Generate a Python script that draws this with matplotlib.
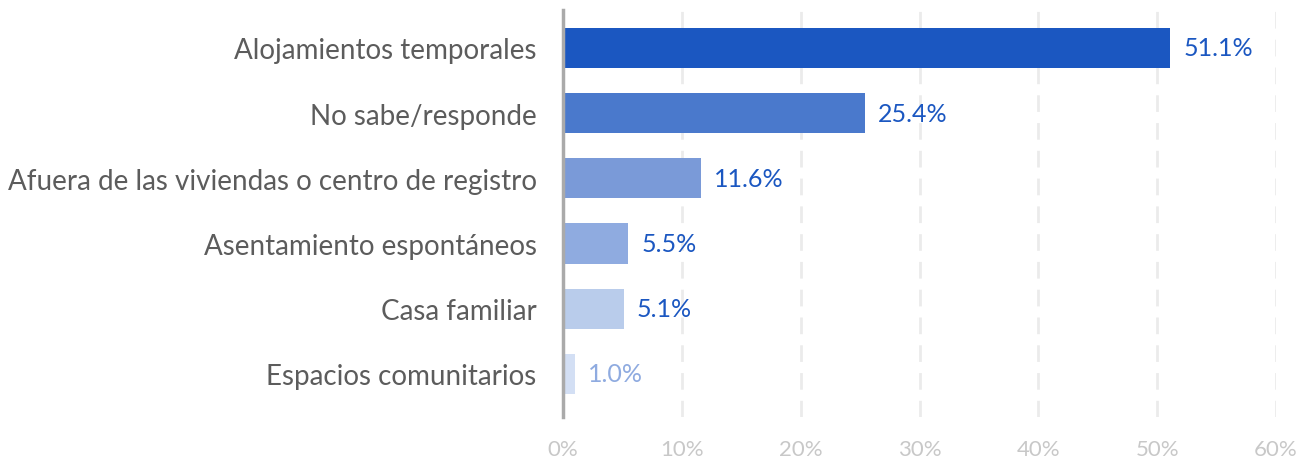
import matplotlib.pyplot as plt
import numpy as np

plt.rcParams['font.family'] = ['Lato', 'DejaVu Sans']

# Data
categories = ['Alojamientos temporales', 'No sabe/responde',
              'Afuera de las viviendas o centro de registro',
              'Asentamiento espontáneos', 'Casa familiar', 'Espacios comunitarios']
values = [51.1, 25.4, 11.6, 5.5, 5.1, 1.0]

bar_colors = ['#1b57c1', '#4a79cc', '#7a9ad8', '#8fabe0', '#b9cceb', '#d3dff4']
label_colors = ['#1b57c1'] * 5 + ['#8fabe0']

fig = plt.figure(figsize=(13.08, 4.6), dpi=100)
ax = fig.add_axes([563 / 1308, 1 - 418 / 460, (1276 - 563) / 1308, (418 - 11) / 460])

y = np.arange(len(categories))
ax.barh(y, values, height=0.615, color=bar_colors, zorder=2)

for yi, v, c in zip(y, values, label_colors):
    ax.text(v + 1.1, yi, f'{v:.1f}%', va='center', ha='left',
            fontsize=18, color=c)

ax.set_xlim(0, 60)
ax.set_ylim(5.66, -0.58)
ax.set_yticks(y)
ax.set_yticklabels(categories, fontsize=20, color='#5c5c5c')
ax.set_xticks(np.arange(0, 61, 10))
ax.set_xticklabels([f'{t}%' for t in range(0, 61, 10)], fontsize=16, color='#c8c8c8')

ax.tick_params(axis='y', length=0, pad=19)
ax.tick_params(axis='x', length=0, pad=16)

for t in range(10, 61, 10):
    ax.axvline(t, color='#ebebeb', lw=2, ls=(0, (6, 4)), zorder=0)

for s in ['top', 'right', 'bottom']:
    ax.spines[s].set_visible(False)
ax.spines['left'].set_color('#aaaaaa')
ax.spines['left'].set_linewidth(2.5)
ax.spines['left'].set_zorder(3)

fig.savefig('out.png', dpi=100)
